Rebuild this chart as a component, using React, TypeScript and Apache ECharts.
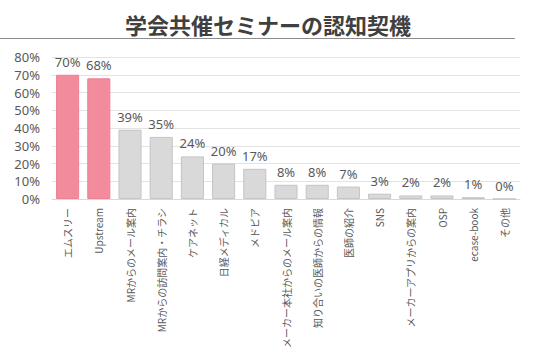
import React, { useEffect, useRef } from "react";
import * as echarts from "echarts";

const titleText = "学会共催セミナーの認知契機";
const categories = [
  "エムスリー",
  "Upstream",
  "MRからのメール案内",
  "MRからの訪問案内・チラシ",
  "ケアネット",
  "日経メディカル",
  "メドピア",
  "メーカー本社からのメール案内",
  "知り合いの医師からの情報",
  "医師の紹介",
  "SNS",
  "メーカーアプリからの案内",
  "OSP",
  "ecase-book",
  "その他",
];
const values = [70, 68, 39, 35, 24, 20, 17, 8, 8, 7, 3, 2, 2, 1, 0];
const highlightCount = 2;
const yTicks = [0, 10, 20, 30, 40, 50, 60, 70, 80];

const FONT = "'Noto Sans CJK JP', 'Noto Sans', sans-serif";
const LATIN = "'Noto Sans', 'Noto Sans CJK JP', sans-serif";

export default function App() {
  const ref = useRef<HTMLDivElement>(null);
  useEffect(() => {
    if (!ref.current) return;
    const chart = echarts.init(ref.current, null, { renderer: "svg" });
    chart.setOption({
      animation: false,
      textStyle: { fontFamily: FONT },
      title: {
        text: titleText,
        left: "center",
        top: 6,
        textStyle: { fontSize: 22, fontWeight: "bold", color: "#404040", fontFamily: FONT, lineHeight: 26 },
      },
      graphic: [
        {
          type: "line",
          shape: { x1: 0, y1: 38.5, x2: 515, y2: 38.5 },
          style: { stroke: "#8c8c8c", lineWidth: 1 },
        },
      ],
      grid: { left: 52, right: 16, top: 57, bottom: 157, outerBoundsMode: "none", containLabel: false },
      xAxis: {
        type: "category",
        data: categories,
        axisLine: { lineStyle: { color: "#d9d9d9" } },
        axisTick: { show: false },
        axisLabel: {
          rotate: 90,
          interval: 0,
          color: "#595959",
          fontSize: 10,
          margin: 9,
          fontFamily: FONT,
          lineHeight: 12,
        },
      },
      yAxis: {
        type: "value",
        min: yTicks[0],
        max: yTicks[yTicks.length - 1],
        interval: 10,
        axisLine: { show: false },
        axisTick: { show: false },
        splitLine: { lineStyle: { color: "#e3e3e3" } },
        axisLabel: {
          formatter: "{value}%",
          color: "#595959",
          fontSize: 13,
          lineHeight: 14,
          margin: 12,
          fontFamily: LATIN,
        },
      },
      series: [
        {
          type: "bar",
          barWidth: "74%",
          data: values.map((v, i) => ({
            value: v,
            itemStyle:
              i < highlightCount
                ? { color: "#f28b9c", borderColor: "#ee8094", borderWidth: 1 }
                : { color: "#d9d9d9", borderColor: "#c4c4c4", borderWidth: 1 },
          })),
          label: {
            show: true,
            position: "top",
            formatter: "{c}%",
            color: "#595959",
            fontSize: 13,
            lineHeight: 14,
            distance: 6,
            fontFamily: LATIN,
          },
        },
      ],
    });
    return () => chart.dispose();
  }, []);
  return (
    <div
      ref={ref}
      style={{ position: "absolute", left: 0, top: 0, width: 536, height: 356 }}
    />
  );
}
